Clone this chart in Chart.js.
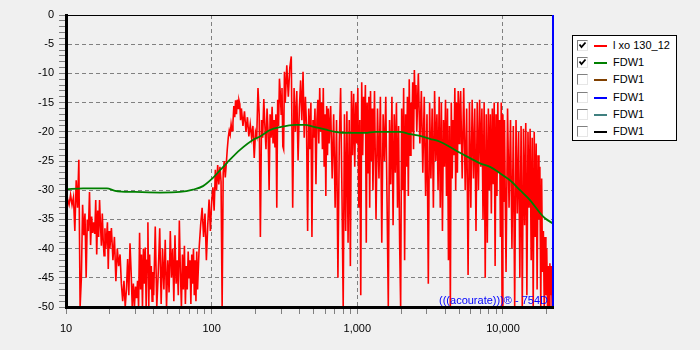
<!DOCTYPE html>
<html><head><meta charset="utf-8">
<script src="https://cdn.jsdelivr.net/npm/chart.js@4.4.1/dist/chart.umd.min.js"></script>
<style>
html,body{margin:0;padding:0;background:#f0f0f0;}
#wrap{position:relative;width:700px;height:350px;overflow:hidden;background:#f0f0f0;}
#c{position:absolute;left:0;top:0;}
#legend{position:absolute;left:572px;top:35px;width:103px;height:104px;background:#fff;border:1px solid #000;font:11px "Liberation Sans",Arial,sans-serif;color:#000;}
.row{position:absolute;left:0;width:100%;height:17px;}
.cb{position:absolute;left:4px;top:3px;width:9px;height:9px;border-top:1px solid #808080;border-left:1px solid #808080;border-right:1px solid #e6e6e6;border-bottom:1px solid #e6e6e6;background:#fff;}
.cb svg{position:absolute;left:0;top:0;}
.ln{position:absolute;left:21px;top:8px;width:13px;height:2px;}
.tx{position:absolute;left:40px;top:0;line-height:17px;white-space:nowrap;}
#wm{position:absolute;right:152px;top:294px;font:11px "Liberation Sans",Arial,sans-serif;color:#0000ff;line-height:13px;white-space:nowrap;}
</style></head>
<body>
<div id="wrap">
<canvas id="c" width="700" height="350"></canvas>
<div id="wm">(((acourate)))® - 754D</div>
<div id="legend"></div>
</div>
<script>
// ---- data ----
const seriesNames = ['l xo 130_12','FDW1','FDW1','FDW1','FDW1','FDW1'];
const seriesColors = ['#ff0000','#008000','#804000','#0000ff','#408080','#000000'];
const seriesChecked = [true,true,false,false,false,false];

const freqA = [10,10.25,10.5,10.75,11,11.25,11.5,11.75,12,12.25,12.5,12.75,13,13.25,13.5,13.75,14,14.25,14.5,14.75,15,15.25,15.5,15.75,16,16.25,16.5,16.75,17,17.25,17.5,17.75,18,18.25,18.5,18.75,19,19.25,19.5,19.75];
const respA = [-30,-31.5,-32.5,-30.8,-32.5,-31.2,-37,-28.3,-33,-24.8,-50,-45,-32.5,-37.7,-34,-45,-35,-37,-30.3,-39.4,-34.5,-37.3,-35.5,-37.5,-31.7,-41,-33.5,-38,-31.7,-36,-39.5,-34,-38.5,-41.2,-36.5,-40,-38,-35.5,-43.5,-37];
const freqB = [20,20.5,21,21.5,22,22.5,23,23.5,24,24.5,25,25.5,26,26.5,27,27.5,28,28.5,29,29.5,30,30.5,31,31.5,32,32.5,33,33.5,34,34.5,35,35.5,36,36.5,37,37.5,38,38.5,39,39.5];
const respB = [-40,-36.5,-42,-38,-45.6,-40,-43,-41,-46,-49,-45.5,-50,-47,-41.8,-48,-39.1,-44,-50,-46,-50,-46.5,-48.5,-45.5,-50,-37.3,-47,-41,-50,-40,-46,-39.8,-50,-42,-35.5,-50,-41,-47,-43,-49,-44];
const freqC = [40,41,42,43,44,45,46,47,48,49,50,51,52,53,54,55,56,57,58,59,60,61,62,63,64,65,66,67,68,69,70,71,72,73,74,75,76,77,78,79];
const respC = [-48,-36.2,-50,-44,-36.5,-49.5,-40,-47,-38.5,-50,-42,-47.5,-37,-45,-40,-49,-37.7,-46,-42,-48,-35.2,-44,-50,-41,-47,-39.5,-49.5,-43,-47,-40.5,-45,-42,-49.5,-41,-46,-40,-48,-42,-49,-40.5];
const freqD = [80,82,84,86,88,90,92,94,96,98,100,102,104,106,108,110,112,114,116,118,120,122,124,126,128,130,132,134,136,138,140,142,144,146,148,150,152,154,156,158];
const respD = [-47,-40,-36,-33,-38,-34,-42,-36,-31.6,-37,-32,-29.5,-33.5,-26.5,-30,-25.7,-29,-26,-28.5,-50,-27,-25,-27.8,-25.5,-23,-21,-19.8,-20.5,-18.7,-19.8,-18.5,-15.6,-17.5,-14.6,-17,-14.5,-16,-14.6,-15.2,-18];
const freqE = [160,164,168,172,176,180,184,188,192,196,200,204,208,212,216,220,224,228,232,236,240,244,248,252,256,260,264,268,272,276,280,284,288,292,296,300,304,308,312,316];
const respE = [-16,-19,-16.5,-20,-17.5,-20.8,-18.7,-21,-19,-24.5,-20,-20.8,-12.5,-17,-38,-18,-21,-14.4,-19,-23,-16,-20,-30,-17,-21,-15.7,-22,-18,-22.7,-17,-33,-14.5,-19,-10.9,-13.5,-17,-12.5,-22.5,-23,-9.7];
const freqF = [320,328,336,344,352,360,368,376,384,392,400,408,416,424,432,440,448,456,464,472,480,488,496,504,512,520,528,536,544,552,560,568,576,584,592,600,608,616,624,632];
const respF = [-15,-8.6,-14,-9,-7.1,-33,-12.5,-20,-13,-24.9,-16,-11.2,-18,-9.7,-21,-14,-19,-37,-16,-23,-15,-38,-18,-21,-16,-29,-18,-14.5,-22,-12.5,-20,-15,-23,-12.5,-26,-17,-31,-15.6,-24,-16];
const freqG = [640,656,672,688,704,720,736,752,768,784,800,816,832,848,864,880,896,912,928,944,960,976,992,1008,1024,1040,1056,1072,1088,1104,1120,1136,1152,1168,1184,1200,1216,1232,1248,1264];
const respG = [-22,-15.6,-28,-17,-33,-18,-45,-22,-12.5,-30,-50,-17,-37,-16.5,-39,-18,-43,-13,-24,-13.5,-26,-15,-22,-12.5,-33,-18,-48,-11.5,-24,-14,-20,-12,-39,-15,-27,-14,-33,-13,-25,-16];
const freqH = [1280,1312,1344,1376,1408,1440,1472,1504,1536,1568,1600,1632,1664,1696,1728,1760,1792,1824,1856,1888,1920,1952,1984,2016,2048,2080,2112,2144,2176,2208,2240,2272,2304,2336,2368,2400,2432,2464,2496,2528];
const respH = [-30,-13,-35,-16,-28,-14,-39,-17,-25,-14,-32,-50,-18,-29,-14,-36,-17,-27,-15,-33,-19,-39,-50,-16,-30,-12.5,-42,-17,-26,-14,-31,-11,-24,-15,-20,-11.5,-23,-9.4,-16,-12];
const freqI = [2560,2624,2688,2752,2816,2880,2944,3008,3072,3136,3200,3264,3328,3392,3456,3520,3584,3648,3712,3776,3840,3904,3968,4032,4096,4160,4224,4288,4352,4416,4480,4544,4608,4672,4736,4800,4864,4928,4992,5056];
const respI = [-20,-10,-22,-13,-27,-14,-31,-17,-46,-15,-28,-16,-33,-13,-25,-17,-30,-14,-33,-15,-37,-18,-26,-14.5,-31,-16,-42,-19,-50,-15,-28,-18,-24,-12.5,-30,-15,-27,-13,-22,-16];
const freqJ = [5120,5248,5376,5504,5632,5760,5888,6016,6144,6272,6400,6528,6656,6784,6912,7040,7168,7296,7424,7552,7680,7808,7936,8064,8192,8320,8448,8576,8704,8832,8960,9088,9216,9344,9472,9600,9728,9856,9984,10112];
const respJ = [-13,-28,-12.5,-30,-16,-44.5,-15,-33,-14.5,-28,-16,-37,-15,-30,-14.5,-26,-16,-35,-15,-45,-17,-39,-16,-30,-17,-34,-16,-29,-15,-43,-17,-31,-15,-27,-18,-38,-15,-50,-17,-32];
const freqK = [10240,10496,10752,11008,11264,11520,11776,12032,12288,12544,12800,13056,13312,13568,13824,14080,14336,14592,14848,15104,15360,15616,15872,16128,16384,16640,16896,17152,17408,17664,17920,18176,18432,18688,18944,19200,19456,19712,19968,20224];
const respK = [-18,-44,-16,-33,-18,-40,-19,-50,-18,-34,-20,-45,-19,-50,-19.5,-36,-18.5,-48,-20,-33,-19.5,-42,-21,-50,-20,-38,-22,-47,-24,-35,-26,-50,-28,-44,-37,-50,-38,-48,-40,-50];
const freqL = [20480,20736,20992,21248,21504,21760,22016];
const respL = [-43,-50,-42.5,-48,-43,-50,-46];

const fdwFreqs = [10,13.1,19.1,21.7,29.8,44.2,60.6,74.5,87.2,102,114,127.5,156.5,198,215,251.5,294.5,373,437,496,600,703,891,1129,1323,1963,2299,2694,3155,3695,4329,5070,5938,6955,8147,9542,11175,13090,15330,17960,19430,22050];
const fdwVals = [-29.85,-29.7,-29.7,-30.1,-30.3,-30.4,-30.3,-29.9,-29.3,-27.9,-26.6,-25.3,-23.1,-21.2,-20.8,-19.7,-19.2,-18.8,-18.8,-19.1,-19.6,-20.0,-20.2,-20.2,-20.0,-20.0,-20.4,-20.7,-21.2,-21.7,-22.6,-23.6,-24.5,-25.4,-26.0,-27.1,-28.3,-30.0,-31.7,-33.9,-34.8,-35.7];

const xTickValues = [10,20,30,40,50,60,70,80,90,100,200,300,400,500,600,700,800,900,1000,2000,3000,4000,5000,6000,7000,8000,9000,10000,20000];
const xLabelValues = [10,100,1000,10000];
const xLabelTexts = ['10','100','1,000','10,000'];
const xGridValues = [100,1000,10000];
const xMin = 10, xMax = 22050, yMin = -50, yMax = 0;

// ---- build ----
const redFreqs = [].concat(freqA,freqB,freqC,freqD,freqE,freqF,freqG,freqH,freqI,freqJ,freqK,freqL);
const redVals = [].concat(respA,respB,respC,respD,respE,respF,respG,respH,respI,respJ,respK,respL);
const redPts = redFreqs.map((f,i)=>({x:f,y:redVals[i]}));
const fdwPts = fdwFreqs.map((f,i)=>({x:f,y:fdwVals[i]}));

// legend (HTML)
const lg = document.getElementById('legend');
seriesNames.forEach((n,i)=>{
  const r = document.createElement('div'); r.className='row'; r.style.top=(1+17.2*i)+'px';
  const cb = document.createElement('div'); cb.className='cb';
  if (seriesChecked[i]) cb.innerHTML='<svg width="9" height="9"><polyline points="1.5,3.5 3.5,6 7.5,1.5" fill="none" stroke="#000" stroke-width="1.8"/></svg>';
  const ln = document.createElement('div'); ln.className='ln'; ln.style.background=seriesColors[i];
  const tx = document.createElement('div'); tx.className='tx'; tx.textContent=n;
  r.appendChild(cb); r.appendChild(ln); r.appendChild(tx); lg.appendChild(r);
});

Chart.defaults.font.family = '"Liberation Sans", Arial, sans-serif';
Chart.defaults.font.size = 11;
Chart.defaults.color = '#000';

const framePlugin = {
  id:'frame',
  afterDatasetsDraw(chart){
    const {ctx, chartArea:a} = chart;
    const ys = chart.scales.y;
    ctx.save();
    ctx.strokeStyle='#000'; ctx.lineWidth=1;
    const ty = Math.round(ys.getPixelForValue(yMax))+0.5;
    ctx.beginPath(); ctx.moveTo(a.left, ty); ctx.lineTo(a.right, ty); ctx.stroke();
    ctx.strokeStyle='#0000ff'; ctx.lineWidth=2;
    const bx = Math.round(chart.scales.x.getPixelForValue(xMax));
    ctx.beginPath(); ctx.moveTo(bx, a.top); ctx.lineTo(bx, a.bottom); ctx.stroke();
    ctx.restore();
  }
};

new Chart(document.getElementById('c'), {
  type:'line',
  data:{datasets:[
    {label:seriesNames[1], data:fdwPts, borderColor:seriesColors[1], borderWidth:1.8, pointRadius:0, cubicInterpolationMode:'monotone', order:0},
    {label:seriesNames[0], data:redPts, borderColor:seriesColors[0], borderWidth:1.6, pointRadius:0, tension:0, order:1}
  ]},
  options:{
    responsive:false, animation:false, devicePixelRatio:1,
    events:[],
    layout:{padding:{left:0,top:15,right:147,bottom:0}},
    plugins:{legend:{display:false}, tooltip:{enabled:false}},
    scales:{
      x:{type:'logarithmic', min:xMin, max:xMax,
        afterFit(s){ s.height = 43; },
        afterBuildTicks(s){ s.ticks = xTickValues.map(v=>({value:v})); },
        ticks:{autoSkip:false, maxRotation:0, minRotation:0, padding:8, color:'#000',
          callback:(v)=>{ const i = xLabelValues.indexOf(v); return i>=0 ? xLabelTexts[i] : ''; }},
        grid:{color:(c)=> (c.tick && xGridValues.indexOf(c.tick.value)>=0) ? '#808080' : 'rgba(0,0,0,0)',
          tickColor:'#808080', tickLength:7, lineWidth:1, drawTicks:true},
        border:{display:true, color:'#000', width:3, dash:[4,3], z:1}
      },
      y:{type:'linear', min:yMin, max:yMax,
        afterFit(s){ s.width = 66; },
        ticks:{stepSize:1, autoSkip:false, maxTicksLimit:100, padding:5, color:'#000',
          callback:(v)=> (v % 5 === 0) ? String(v) : ''},
        grid:{color:(c)=> (c.tick && c.tick.value % 5 === 0 && c.tick.value > yMin && c.tick.value < yMax) ? '#808080' : 'rgba(0,0,0,0)',
          tickColor:'#808080', tickLength:7, lineWidth:1, drawTicks:true},
        border:{display:true, color:'#000', width:3, dash:[4,3], z:1}
      }
    }
  },
  plugins:[framePlugin]
});
</script>
</body></html>
